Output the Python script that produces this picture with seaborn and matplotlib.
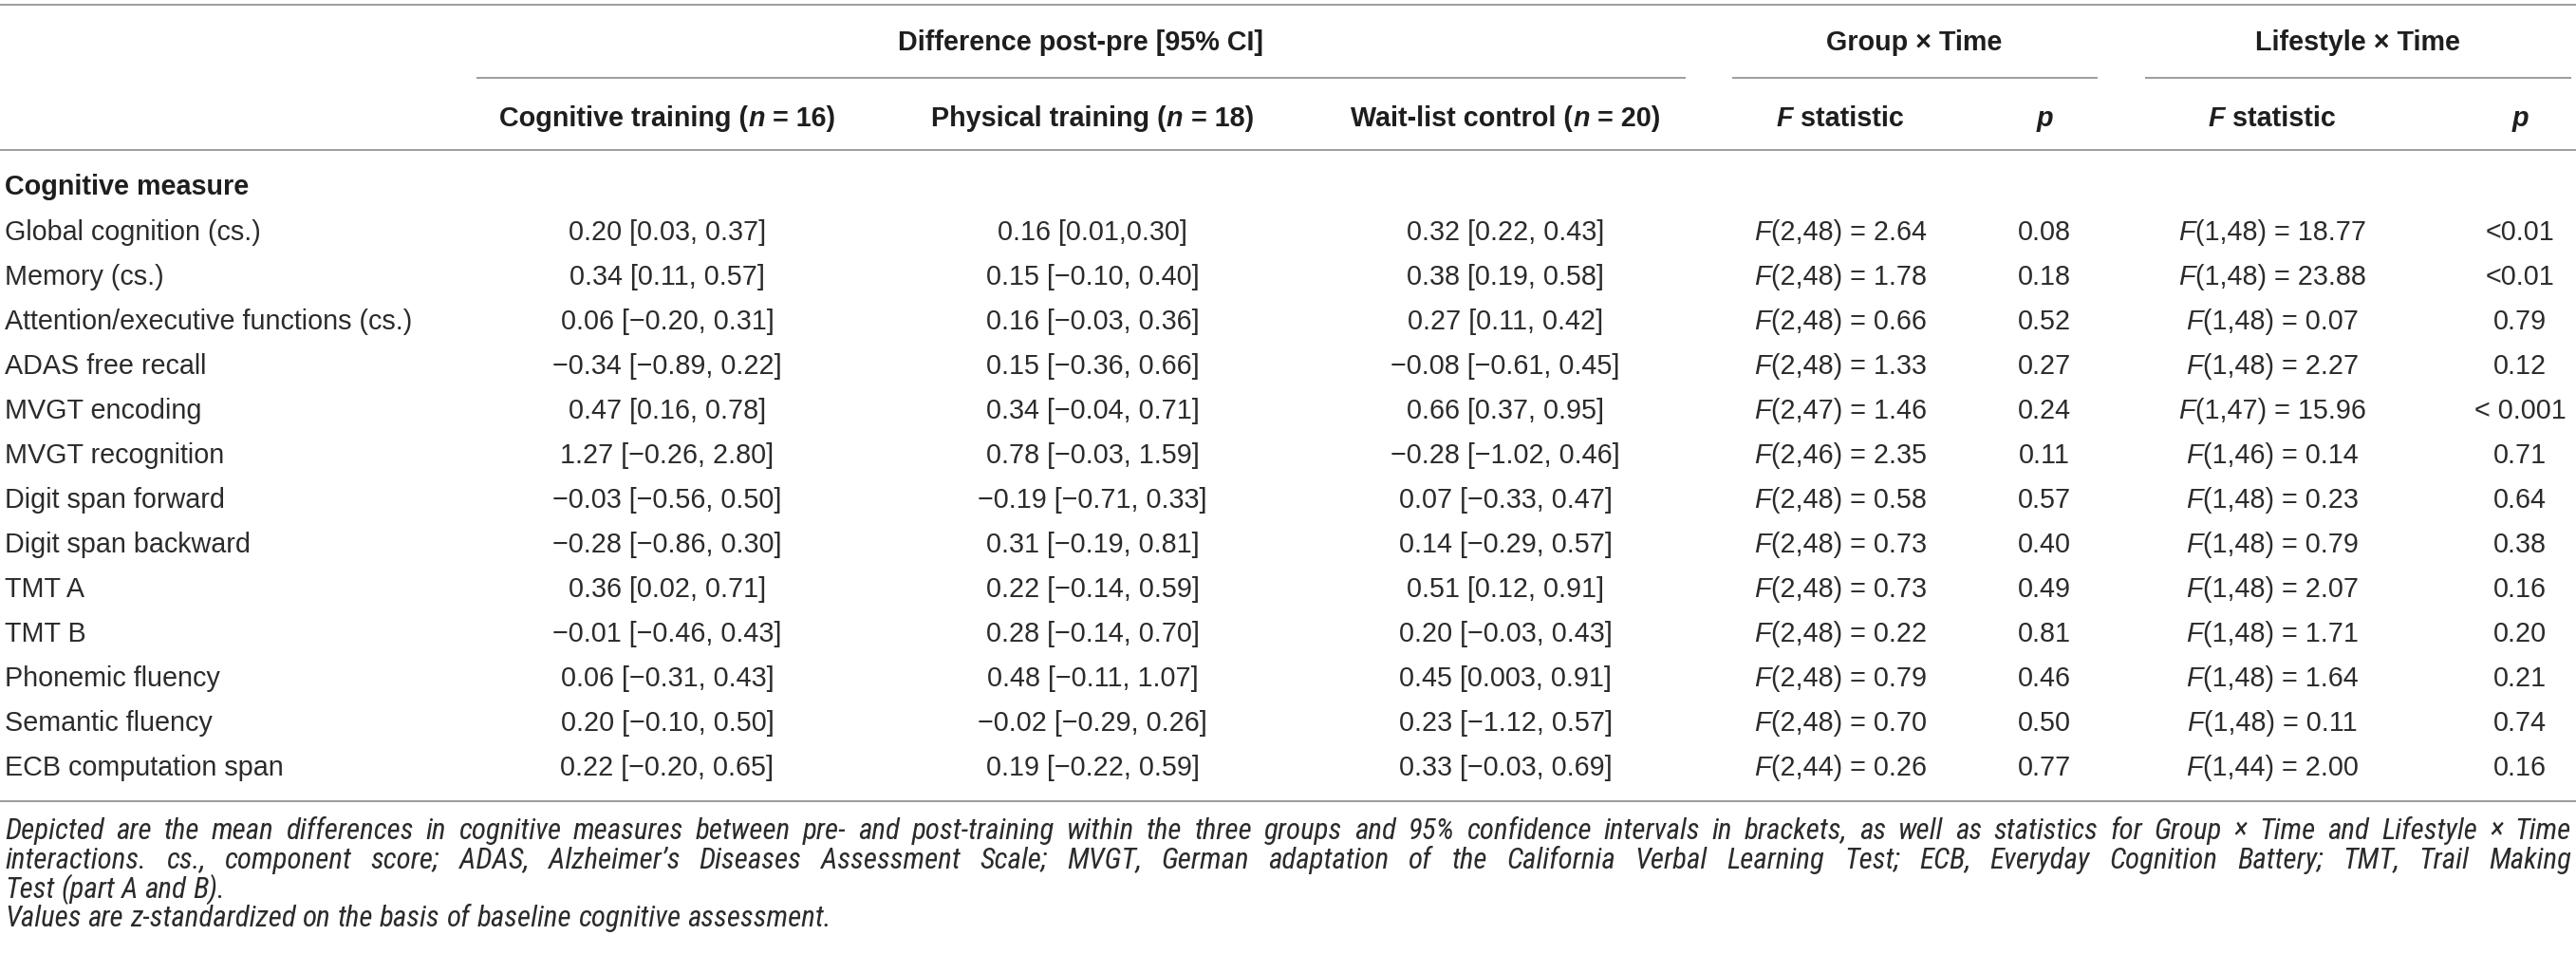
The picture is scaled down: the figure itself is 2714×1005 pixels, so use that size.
import matplotlib
matplotlib.use("Agg")
import matplotlib.pyplot as plt
from matplotlib import font_manager
import seaborn as sns

# table contents
measures = ["Global cognition (cs.)", "Memory (cs.)", "Attention/executive functions (cs.)",
            "ADAS free recall", "MVGT encoding", "MVGT recognition", "Digit span forward",
            "Digit span backward", "TMT A", "TMT B", "Phonemic fluency", "Semantic fluency",
            "ECB computation span"]
cog_train = ["0.20 [0.03, 0.37]", "0.34 [0.11, 0.57]", "0.06 [−0.20, 0.31]", "−0.34 [−0.89, 0.22]",
             "0.47 [0.16, 0.78]", "1.27 [−0.26, 2.80]", "−0.03 [−0.56, 0.50]", "−0.28 [−0.86, 0.30]",
             "0.36 [0.02, 0.71]", "−0.01 [−0.46, 0.43]", "0.06 [−0.31, 0.43]", "0.20 [−0.10, 0.50]",
             "0.22 [−0.20, 0.65]"]
phys_train = ["0.16 [0.01,0.30]", "0.15 [−0.10, 0.40]", "0.16 [−0.03, 0.36]", "0.15 [−0.36, 0.66]",
              "0.34 [−0.04, 0.71]", "0.78 [−0.03, 1.59]", "−0.19 [−0.71, 0.33]", "0.31 [−0.19, 0.81]",
              "0.22 [−0.14, 0.59]", "0.28 [−0.14, 0.70]", "0.48 [−0.11, 1.07]", "−0.02 [−0.29, 0.26]",
              "0.19 [−0.22, 0.59]"]
wait_list = ["0.32 [0.22, 0.43]", "0.38 [0.19, 0.58]", "0.27 [0.11, 0.42]", "−0.08 [−0.61, 0.45]",
             "0.66 [0.37, 0.95]", "−0.28 [−1.02, 0.46]", "0.07 [−0.33, 0.47]", "0.14 [−0.29, 0.57]",
             "0.51 [0.12, 0.91]", "0.20 [−0.03, 0.43]", "0.45 [0.003, 0.91]", "0.23 [−1.12, 0.57]",
             "0.33 [−0.03, 0.69]"]
group_df = ["2,48", "2,48", "2,48", "2,48", "2,47", "2,46", "2,48", "2,48", "2,48", "2,48", "2,48", "2,48", "2,44"]
group_F = ["2.64", "1.78", "0.66", "1.33", "1.46", "2.35", "0.58", "0.73", "0.73", "0.22", "0.79", "0.70", "0.26"]
group_p = ["0.08", "0.18", "0.52", "0.27", "0.24", "0.11", "0.57", "0.40", "0.49", "0.81", "0.46", "0.50", "0.77"]
life_df = ["1,48", "1,48", "1,48", "1,48", "1,47", "1,46", "1,48", "1,48", "1,48", "1,48", "1,48", "1,48", "1,44"]
life_F = ["18.77", "23.88", "0.07", "2.27", "15.96", "0.14", "0.23", "0.79", "2.07", "1.71", "1.64", "0.11", "2.00"]
life_p = ["<0.01", "<0.01", "0.79", "0.12", "< 0.001", "0.71", "0.64", "0.38", "0.16", "0.20", "0.21", "0.74", "0.16"]

note_lines = [
    "Depicted are the mean differences in cognitive measures between pre- and post-training within the three "
    "groups and 95% confidence intervals in brackets, as well as statistics for Group × Time and Lifestyle × Time",
    "interactions. cs., component score; ADAS, Alzheimer’s Diseases Assessment Scale; MVGT, German adaptation "
    "of the California Verbal Learning Test; ECB, Everyday Cognition Battery; TMT, Trail Making",
    "Test (part A and B).",
    "Values are z-standardized on the basis of baseline cognitive assessment.",
]

sns.set_theme(style="white")
plt.rcParams["font.family"] = ["Liberation Sans", "DejaVu Sans"]


def narrow_italic():
    # look for an installed condensed italic face for the footnote
    wanted = ["Liberation Sans Narrow", "Roboto Condensed", "Open Sans Condensed", "Noto Sans", "DejaVu Sans"]
    for name in wanted:
        for f in font_manager.fontManager.ttflist:
            stretch = str(f.stretch)
            narrow = ("condensed" in stretch) or (stretch.isdigit() and int(stretch) < 500) or ("Narrow" in f.name) \
                or ("Condensed" in f.name)
            if f.name == name and narrow and f.style in ("italic", "oblique") and str(f.weight) in ("400", "normal", "300", "light"):
                return font_manager.FontProperties(fname=f.fname)
    return font_manager.FontProperties(family="Liberation Sans", style="italic")


note_font = narrow_italic()

W, H = 2714, 1005
fig = plt.figure(figsize=(W / 100, H / 100), dpi=100)
ax = fig.add_axes([0, 0, 1, 1])
ax.set_xlim(0, W)
ax.set_ylim(H, 0)
ax.axis("off")
fig.canvas.draw()
renderer = fig.canvas.get_renderer()

FS = 20.7
EM = FS * 100 / 72
TXT = "#2b2b2b"
RULE = "#9c9c9c"

BOLD = dict(fontweight="bold", color="#1e1e1e", fontsize=FS)
BOLDI = dict(fontweight="bold", fontstyle="italic", color="#1e1e1e", fontsize=FS)
REG = dict(color=TXT, fontsize=FS)
ITAL = dict(fontstyle="italic", color=TXT, fontsize=FS)


def put_runs(x, yc, parts, ha="center"):
    base = yc + 0.36 * EM
    texts, widths = [], []
    for s, kw in parts:
        t = ax.text(0, base, s, ha="left", va="baseline", **kw)
        texts.append(t)
        widths.append(t.get_window_extent(renderer).width)
    start = x - sum(widths) / 2 if ha == "center" else x
    for t, w in zip(texts, widths):
        t.set_x(start)
        start += w


def rule(y, x0=0, x1=W):
    ax.hlines(y, x0, x1, color=RULE, lw=1.4)


# rules
rule(5)
rule(82, 502, 1776)
rule(82, 1825, 2210)
rule(82, 2260, 2709)
rule(158)
rule(844)

# spanning headers
put_runs(1139, 43, [("Difference post-pre [95% CI]", BOLD)])
put_runs(2017, 43, [("Group × Time", BOLD)])
put_runs(2484, 43, [("Lifestyle × Time", BOLD)])

col_x = [703, 1151, 1586, 1939, 2154, 2394, 2655]
put_runs(col_x[0], 123, [("Cognitive training (", BOLD), ("n", BOLDI), (" = 16)", BOLD)])
put_runs(col_x[1], 123, [("Physical training (", BOLD), ("n", BOLDI), (" = 18)", BOLD)])
put_runs(col_x[2], 123, [("Wait-list control (", BOLD), ("n", BOLDI), (" = 20)", BOLD)])
put_runs(col_x[3], 123, [("F", BOLDI), (" statistic", BOLD)])
put_runs(col_x[4], 123, [("p", BOLDI)])
put_runs(col_x[5], 123, [("F", BOLDI), (" statistic", BOLD)])
put_runs(col_x[6], 123, [("p", BOLDI)])

put_runs(5, 195, [("Cognitive measure", BOLD)], ha="left")

row_y0, row_dy = 243, 47
for i, m in enumerate(measures):
    y = row_y0 + i * row_dy
    put_runs(5, y, [(m, REG)], ha="left")
    put_runs(col_x[0], y, [(cog_train[i], REG)])
    put_runs(col_x[1], y, [(phys_train[i], REG)])
    put_runs(col_x[2], y, [(wait_list[i], REG)])
    put_runs(col_x[3], y, [("F", ITAL), ("(" + group_df[i] + ") = " + group_F[i], REG)])
    put_runs(col_x[4], y, [(group_p[i], REG)])
    put_runs(col_x[5], y, [("F", ITAL), ("(" + life_df[i] + ") = " + life_F[i], REG)])
    put_runs(col_x[6], y, [(life_p[i], REG)])

# footnote: first line sets the size, first two lines justified
x0, x1 = 5, 2709
probe = ax.text(0, 0, note_lines[0], fontproperties=note_font, fontsize=16)
nfs = min(16 * (x1 - x0) / probe.get_window_extent(renderer).width, 1.08 * FS)
probe.remove()
NEM = nfs * 100 / 72
note_y = [873, 904, 935, 965]
sp = ax.text(0, 0, "a a", fontproperties=note_font, fontsize=nfs)
aa = ax.text(0, 0, "aa", fontproperties=note_font, fontsize=nfs)
space_w = sp.get_window_extent(renderer).width - aa.get_window_extent(renderer).width
sp.remove()
aa.remove()
for k, line in enumerate(note_lines):
    base = note_y[k] + 0.34 * NEM
    words = line.split(" ")
    ts = [ax.text(0, base, w, fontproperties=note_font, fontsize=nfs, color=TXT, va="baseline") for w in words]
    ws = [t.get_window_extent(renderer).width for t in ts]
    gap = (x1 - x0 - sum(ws)) / (len(ws) - 1) if k < 2 else space_w
    pos = x0
    for t, w in zip(ts, ws):
        t.set_x(pos)
        pos += w + gap

fig.savefig("out.png", dpi=100, facecolor="white")
